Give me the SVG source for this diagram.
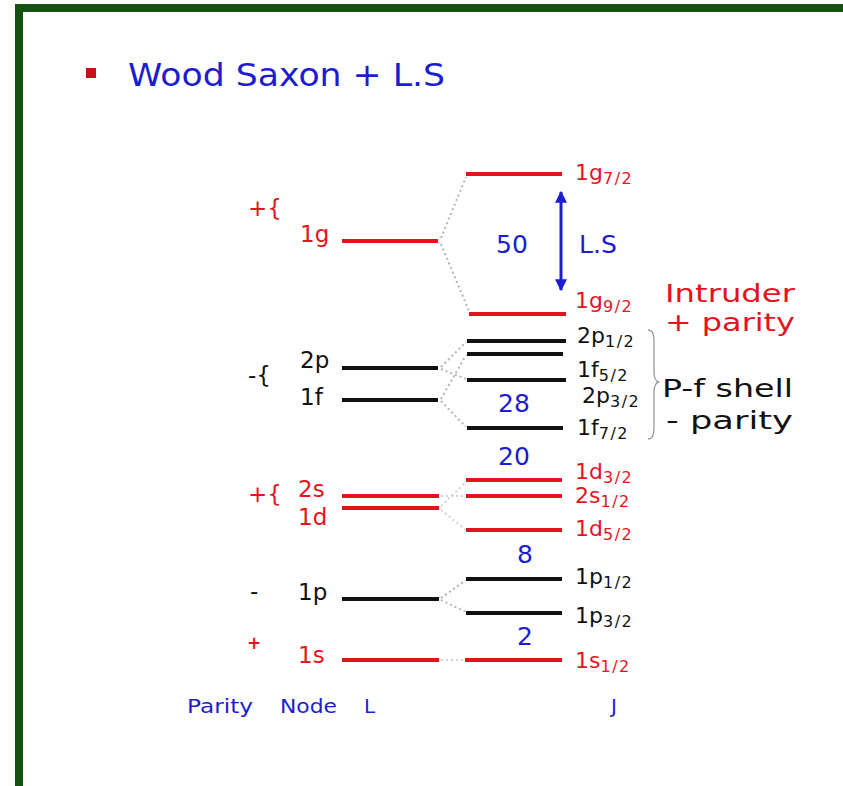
<svg xmlns="http://www.w3.org/2000/svg" width="843" height="786" viewBox="0 0 843 786">
<style>
text{font-family:"DejaVu Sans","Liberation Sans",sans-serif}
.red{fill:#e4141e}
.blk{fill:#111}
.blu{fill:#1c1cd0}
.lr{stroke:#e4141e;stroke-width:4}
.lb{stroke:#111;stroke-width:4}
.lbl{font-size:22px}
.sub{font-size:16px;letter-spacing:1.5px}
.left{font-size:23px}
.num{font-size:25px;text-anchor:middle}
.note{font-size:25px}
.foot{font-size:20px}
.dot{stroke:#b4b4b4;stroke-width:2;stroke-dasharray:2 3;fill:none}
</style>
<defs>
<marker id="ah" viewBox="0 0 10 10" refX="9" refY="5" markerWidth="4" markerHeight="4" orient="auto-start-reverse">
<path d="M0,0 L10,5 L0,10 z" fill="#1c1cd0"/>
</marker>
</defs>
<rect x="0" y="0" width="843" height="786" fill="#ffffff"/>
<g id="frame">
<rect x="15" y="4" width="8" height="782" fill="#145214"/>
<rect x="15" y="4" width="828" height="8" fill="#145214"/>
</g>
<g id="title">
<rect x="86" y="68" width="10" height="10" fill="#c8101a"/>
<text x="128" y="86" font-size="32" textLength="317" lengthAdjust="spacingAndGlyphs" class="blu">Wood Saxon + L.S</text>
</g>
<g id="connectors">
<line class="dot" x1="441" y1="238" x2="466" y2="177"/>
<line class="dot" x1="441" y1="244" x2="469" y2="311"/>
<line class="dot" x1="441" y1="367" x2="466" y2="342"/>
<line class="dot" x1="441" y1="369" x2="466" y2="379"/>
<line class="dot" x1="441" y1="399" x2="466" y2="355"/>
<line class="dot" x1="441" y1="401" x2="466" y2="427"/>
<line class="dot" x1="441" y1="496" x2="466" y2="496" style="opacity:.6"/>
<line class="dot" x1="441" y1="506" x2="466" y2="482" style="opacity:.6"/>
<line class="dot" x1="441" y1="510" x2="466" y2="530" style="opacity:.6"/>
<line class="dot" x1="441" y1="598" x2="466" y2="580"/>
<line class="dot" x1="441" y1="600" x2="466" y2="612"/>
<line class="dot" x1="441" y1="660" x2="465" y2="660" style="opacity:.6"/>
<line x1="561" y1="192" x2="561" y2="290" stroke="#1c1cd0" stroke-width="3" marker-start="url(#ah)" marker-end="url(#ah)"/>
<path d="M648,330 Q654,330 654,340 L654,372 Q654,381 659,382 Q654,383 654,392 L654,428 Q654,439 648,439" fill="none" stroke="#9a9a9a" stroke-width="1.3"/>
</g>
<g id="L-1g"><line class="lr" x1="342" y1="241" x2="438" y2="241"/><text class="left red" x="248" y="216">+{</text><text class="left red" x="300" y="242">1g</text></g>
<g id="L-2p"><line class="lb" x1="342" y1="368" x2="438" y2="368"/><text class="left blk" x="248" y="383">-{</text><text class="left blk" x="300" y="368">2p</text></g>
<g id="L-1f"><line class="lb" x1="342" y1="400" x2="438" y2="400"/><text class="left blk" x="300" y="405">1f</text></g>
<g id="L-2s"><line class="lr" x1="342" y1="496" x2="439" y2="496"/><text class="left red" x="248" y="502">+{</text><text class="left red" x="298" y="497">2s</text></g>
<g id="L-1d"><line class="lr" x1="342" y1="508" x2="439" y2="508"/><text class="left red" x="298" y="525">1d</text></g>
<g id="L-1p"><line class="lb" x1="342" y1="599" x2="439" y2="599"/><text class="left blk" x="250" y="599">-</text><text class="left blk" x="298" y="600">1p</text></g>
<g id="L-1s"><line class="lr" x1="342" y1="660" x2="439" y2="660"/><text class="red" x="247" y="649" font-size="17" font-weight="bold">+</text><text class="left red" x="298" y="663">1s</text></g>
<g id="J-1g72"><line class="lr" x1="466" y1="174" x2="562" y2="174"/><text class="lbl red" x="575" y="180">1g<tspan class="sub" dy="4">7/2</tspan></text></g>
<g id="J-1g92"><line class="lr" x1="469" y1="314" x2="566" y2="314"/><text class="lbl red" x="575" y="308">1g<tspan class="sub" dy="4">9/2</tspan></text></g>
<g id="J-2p12"><line class="lb" x1="467" y1="341" x2="566" y2="341"/><text class="lbl blk" x="577" y="343">2p<tspan class="sub" dy="4">1/2</tspan></text></g>
<g id="J-1f52"><line class="lb" x1="467" y1="354" x2="563" y2="354"/><text class="lbl blk" x="577" y="377">1f<tspan class="sub" dy="4">5/2</tspan></text></g>
<g id="J-2p32"><line class="lb" x1="467" y1="380" x2="566" y2="380"/><text class="lbl blk" x="582" y="403">2p<tspan class="sub" dy="4">3/2</tspan></text></g>
<g id="J-1f72"><line class="lb" x1="467" y1="428" x2="563" y2="428"/><text class="lbl blk" x="577" y="435">1f<tspan class="sub" dy="4">7/2</tspan></text></g>
<g id="J-1d32"><line class="lr" x1="466" y1="480" x2="562" y2="480"/><text class="lbl red" x="575" y="479">1d<tspan class="sub" dy="4">3/2</tspan></text></g>
<g id="J-2s12"><line class="lr" x1="466" y1="496" x2="562" y2="496"/><text class="lbl red" x="575" y="503">2s<tspan class="sub" dy="4">1/2</tspan></text></g>
<g id="J-1d52"><line class="lr" x1="466" y1="530" x2="562" y2="530"/><text class="lbl red" x="575" y="536">1d<tspan class="sub" dy="4">5/2</tspan></text></g>
<g id="J-1p12"><line class="lb" x1="466" y1="579" x2="562" y2="579"/><text class="lbl blk" x="575" y="584">1p<tspan class="sub" dy="4">1/2</tspan></text></g>
<g id="J-1p32"><line class="lb" x1="466" y1="613" x2="562" y2="613"/><text class="lbl blk" x="575" y="623">1p<tspan class="sub" dy="4">3/2</tspan></text></g>
<g id="J-1s12"><line class="lr" x1="465" y1="660" x2="562" y2="660"/><text class="lbl red" x="575" y="668">1s<tspan class="sub" dy="4">1/2</tspan></text></g>
<g id="numbers">
<text class="num blu" x="512" y="253">50</text>
<text class="blu" x="579" y="253" font-size="25">L.S</text>
<text class="num blu" x="514" y="412">28</text>
<text class="num blu" x="514" y="465">20</text>
<text class="num blu" x="525" y="563">8</text>
<text class="num blu" x="525" y="645">2</text>
</g>
<g id="notes">
<text class="note red" x="665" y="302" textLength="130" lengthAdjust="spacingAndGlyphs">Intruder</text>
<text class="note red" x="665" y="331" textLength="130" lengthAdjust="spacingAndGlyphs">+ parity</text>
<text class="note blk" x="662" y="397" textLength="131" lengthAdjust="spacingAndGlyphs">P-f shell</text>
<text class="note blk" x="666" y="429" textLength="127" lengthAdjust="spacingAndGlyphs">- parity</text>
</g>
<g id="footer">
<text class="foot blu" x="187" y="713" textLength="66" lengthAdjust="spacingAndGlyphs">Parity</text>
<text class="foot blu" x="280" y="713" textLength="57" lengthAdjust="spacingAndGlyphs">Node</text>
<text class="foot blu" x="364" y="713">L</text>
<text class="foot blu" x="611" y="713">J</text>
</g>
</svg>
